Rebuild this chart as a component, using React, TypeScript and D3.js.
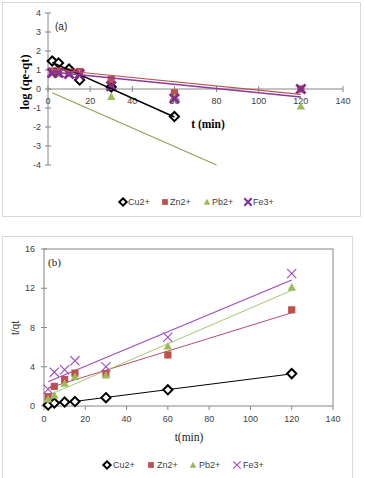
import * as d3 from 'd3';
import { useEffect, useRef } from 'react';

// contact times (min)
const times = [2, 5, 10, 15, 30, 60, 120];

// (a) log(qe - qt) values per ion
const cuLog = [1.47, 1.37, 1.05, 0.47, 0.1, -1.45];
const znLog = [0.95, 0.95, 0.9, 0.92, 0.5, -0.2, 0.0];
const pbLog = [0.85, 0.8, 0.8, 0.8, -0.4, -0.45, -0.9];
const feLog = [0.85, 0.85, 0.8, 0.78, 0.15, -0.5, 0.0];

// (b) t/qt values per ion
const cuTq = [0.1, 0.3, 0.4, 0.45, 0.85, 1.65, 3.3];
const znTq = [0.95, 2.0, 2.7, 3.35, 3.3, 5.2, 9.8];
const pbTq = [0.7, 1.1, 2.3, 3.0, 3.15, 6.1, 12.1];
const feTq = [1.7, 3.45, 3.7, 4.6, 4.0, 7.0, 13.5];

// trendlines: [intercept, slope, tStart, tEnd]
const cuFitA = [1.5, -0.0495, 2, 60];
const znFitA = [1.05, -0.0111, 2, 120];
const pbFitA = [-0.1, -0.0487, 2, 80];
const feFitA = [0.92, -0.0112, 2, 120];

const cuFitB = [0.07, 0.0267, 2, 120];
const znFitB = [1.7, 0.065, 2, 120];
const pbFitB = [0.9, 0.0907, 2, 120];
const feFitB = [2.29, 0.088, 2, 120];

const xTicks = [0, 20, 40, 60, 80, 100, 120, 140];
const yTicksA = [-4, -3, -2, -1, 0, 1, 2, 3, 4];
const yTicksB = [0, 4, 8, 12, 16];
const ions = ['Cu2+', 'Zn2+', 'Pb2+', 'Fe3+'];

const SANS = '"Liberation Sans", Arial, sans-serif';
const SERIF = '"Liberation Serif", "Times New Roman", serif';
const AXIS = '#868686';
const RED = '#C0504D';
const GREEN = '#9BBB59';

type Sel = d3.Selection<SVGGElement, unknown, null, undefined>;

function marker(g: Sel, kind: string, x: number, y: number, color: string, s = 1, xWidth = 2.2) {
  if (kind === 'diamond') {
    const r = 4.6 * s;
    g.append('path')
      .attr('d', `M${x},${y - r}L${x + r},${y}L${x},${y + r}L${x - r},${y}Z`)
      .attr('fill', '#fff')
      .attr('stroke', '#000')
      .attr('stroke-width', 2);
  } else if (kind === 'square') {
    const h = 3.6 * s;
    g.append('rect').attr('x', x - h).attr('y', y - h).attr('width', 2 * h).attr('height', 2 * h).attr('fill', color);
  } else if (kind === 'triangle') {
    const h = 4.2 * s;
    g.append('path')
      .attr('d', `M${x},${y - h}L${x + h},${y + h * 0.8}L${x - h},${y + h * 0.8}Z`)
      .attr('fill', color);
  } else {
    const h = 4.6 * s;
    g.append('path')
      .attr('d', `M${x - h},${y - h}L${x + h},${y + h}M${x - h},${y + h}L${x + h},${y - h}`)
      .attr('stroke', color)
      .attr('stroke-width', xWidth)
      .attr('fill', 'none');
  }
}

export default function App() {
  const ref = useRef<SVGSVGElement | null>(null);

  useEffect(() => {
    if (!ref.current) return;
    const svg = d3.select(ref.current);
    svg.selectAll('*').remove();

    const kinds = ['diamond', 'square', 'triangle', 'cross'];

    // ---------- panel (a) ----------
    {
      const g = svg.append('g') as unknown as Sel;
      g.append('rect').attr('x', 2.5).attr('y', 2.5).attr('width', 358).attr('height', 214)
        .attr('fill', '#fff').attr('stroke', '#D9D9D9');

      const x = d3.scaleLinear().domain([0, 140]).range([48, 343]);
      const y = d3.scaleLinear().domain([-4, 4]).range([165, 13]);
      const y0 = y(0);

      // axes cross at zero
      g.append('line').attr('x1', x(0)).attr('x2', x(0)).attr('y1', y(4)).attr('y2', y(-4)).attr('stroke', AXIS);
      g.append('line').attr('x1', x(0)).attr('x2', x(140)).attr('y1', y0).attr('y2', y0).attr('stroke', AXIS);
      yTicksA.forEach((t) => {
        g.append('line').attr('x1', x(0) - 3).attr('x2', x(0) + 3).attr('y1', y(t)).attr('y2', y(t)).attr('stroke', AXIS);
        g.append('text').attr('x', x(0) - 7).attr('y', y(t)).attr('dy', '0.35em').attr('text-anchor', 'end')
          .attr('font-family', SANS).attr('font-size', 9).attr('fill', '#404040').text(t);
      });
      xTicks.forEach((t) => {
        g.append('line').attr('x1', x(t)).attr('x2', x(t)).attr('y1', y0 - 3).attr('y2', y0 + 3).attr('stroke', AXIS);
        g.append('text').attr('x', x(t)).attr('y', y0 + 12).attr('dy', '0.35em').attr('text-anchor', 'middle')
          .attr('font-family', SANS).attr('font-size', 9).attr('fill', '#404040').text(t);
      });

      g.append('text').attr('x', 208).attr('y', 124).attr('dy', '0.35em').attr('text-anchor', 'middle')
        .attr('font-family', SERIF).attr('font-weight', 'bold').attr('font-size', 11.5).text('t (min)');
      g.append('text').attr('transform', 'translate(25,82) rotate(-90)').attr('dy', '0.35em').attr('text-anchor', 'middle')
        .attr('font-family', SERIF).attr('font-weight', 'bold').attr('font-size', 12.5).text('log (qe-qt)');
      g.append('text').attr('x', 55).attr('y', 26).attr('dy', '0.35em')
        .attr('font-family', SANS).attr('font-size', 10).attr('fill', '#222').text('(a)');

      const series = [
        { vals: cuLog, fit: cuFitA, color: '#000', line: '#000', lw: 1.6 },
        { vals: znLog, fit: znFitA, color: RED, line: '#B85450', lw: 1.1 },
        { vals: pbLog, fit: pbFitA, color: GREEN, line: '#8FA24E', lw: 1.1 },
        { vals: feLog, fit: feFitA, color: '#862A8E', line: '#8B3A9E', lw: 1.4 },
      ];
      series.forEach((s, i) => {
        s.vals.forEach((v, j) => marker(g, kinds[i], x(times[j]), y(v), s.color, 1, 2.8));
      });
      series.forEach((s) => {
        const [b0, b1, t0, t1] = s.fit;
        g.append('line').attr('x1', x(t0)).attr('x2', x(t1)).attr('y1', y(b0 + b1 * t0)).attr('y2', y(b0 + b1 * t1))
          .attr('stroke', s.line).attr('stroke-width', s.lw);
      });

      // legend
      const lx = [123, 165, 207, 248];
      ions.forEach((name, i) => {
        marker(g, kinds[i], lx[i], 202, series[i].color, 0.8, 2);
        g.append('text').attr('x', lx[i] + 5).attr('y', 202).attr('dy', '0.35em')
          .attr('font-family', SANS).attr('font-size', 9).attr('fill', '#404040').text(name);
      });
    }

    // ---------- panel (b) ----------
    {
      const g = svg.append('g') as unknown as Sel;
      g.append('rect').attr('x', 2.5).attr('y', 236.5).attr('width', 350).attr('height', 260)
        .attr('fill', '#fff').attr('stroke', '#D9D9D9');

      const x = d3.scaleLinear().domain([0, 140]).range([44, 333]);
      const y = d3.scaleLinear().domain([0, 16]).range([406, 249]);

      g.append('rect').attr('x', x(0)).attr('y', y(16)).attr('width', x(140) - x(0)).attr('height', y(0) - y(16))
        .attr('fill', 'none').attr('stroke', AXIS);
      yTicksB.forEach((t) => {
        g.append('line').attr('x1', x(0) - 3).attr('x2', x(0) + 3).attr('y1', y(t)).attr('y2', y(t)).attr('stroke', AXIS);
        g.append('text').attr('x', x(0) - 9).attr('y', y(t)).attr('dy', '0.35em').attr('text-anchor', 'end')
          .attr('font-family', SANS).attr('font-size', 9).attr('fill', '#404040').text(t);
      });
      xTicks.forEach((t) => {
        g.append('line').attr('x1', x(t)).attr('x2', x(t)).attr('y1', y(0)).attr('y2', y(0) + 4).attr('stroke', AXIS);
        g.append('text').attr('x', x(t)).attr('y', y(0) + 13).attr('dy', '0.35em').attr('text-anchor', 'middle')
          .attr('font-family', SANS).attr('font-size', 9).attr('fill', '#404040').text(t);
      });

      g.append('text').attr('x', 189).attr('y', 437).attr('dy', '0.35em').attr('text-anchor', 'middle')
        .attr('font-family', SERIF).attr('font-size', 11.5).attr('fill', '#222').text('t(min)');
      g.append('text').attr('transform', 'translate(15,328) rotate(-90)').attr('dy', '0.35em').attr('text-anchor', 'middle')
        .attr('font-family', SANS).attr('font-size', 10).attr('fill', '#404040').text('t/qt');
      g.append('text').attr('x', 48).attr('y', 262).attr('dy', '0.35em')
        .attr('font-family', SERIF).attr('font-size', 11).attr('fill', '#222').text('(b)');

      const series = [
        { vals: cuTq, fit: cuFitB, color: '#000', line: '#000', lw: 1 },
        { vals: znTq, fit: znFitB, color: RED, line: '#B8506A', lw: 1 },
        { vals: pbTq, fit: pbFitB, color: GREEN, line: '#A8C870', lw: 1 },
        { vals: feTq, fit: feFitB, color: '#A048C0', line: '#A048C0', lw: 1.1 },
      ];
      series.forEach((s) => {
        const [b0, b1, t0, t1] = s.fit;
        g.append('line').attr('x1', x(t0)).attr('x2', x(t1)).attr('y1', y(b0 + b1 * t0)).attr('y2', y(b0 + b1 * t1))
          .attr('stroke', s.line).attr('stroke-width', s.lw);
      });
      series.forEach((s, i) => {
        s.vals.forEach((v, j) => marker(g, kinds[i], x(times[j]), y(v), s.color, 1, 1.1));
      });

      const lx = [107, 151, 193, 237];
      ions.forEach((name, i) => {
        marker(g, kinds[i], lx[i], 465, series[i].color, 0.8, 1.1);
        g.append('text').attr('x', lx[i] + 6).attr('y', 465).attr('dy', '0.35em')
          .attr('font-family', SANS).attr('font-size', 9).attr('fill', '#404040').text(name);
      });
    }
  }, []);

  return (
    <div style={{ position: 'absolute', left: 0, top: 0 }}>
      <svg ref={ref} width={365} height={478} style={{ display: 'block', background: '#fff' }} />
    </div>
  );
}
